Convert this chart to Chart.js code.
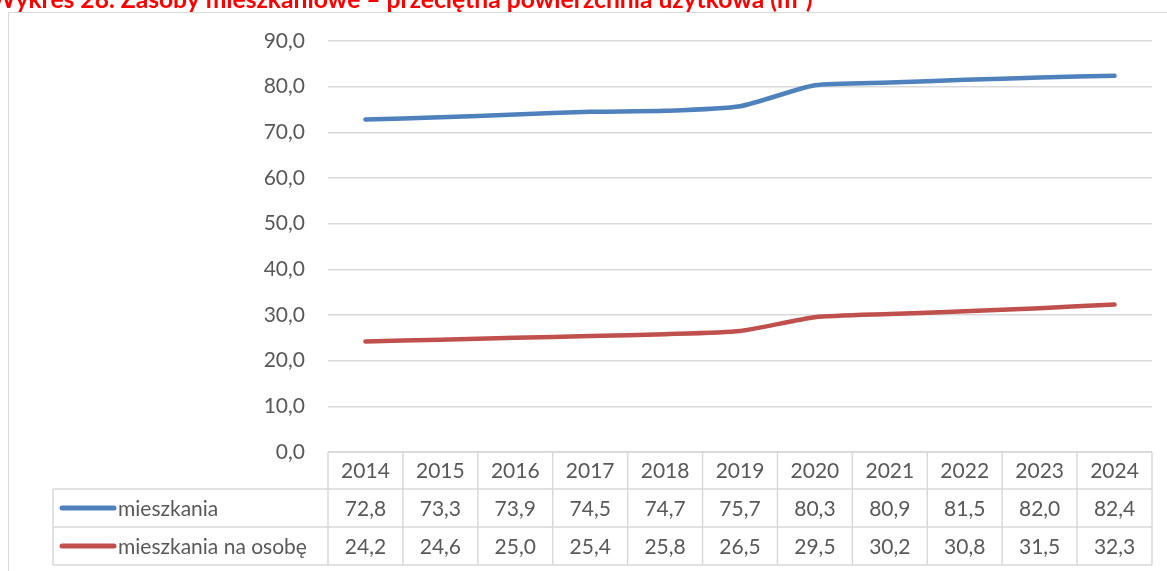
<!DOCTYPE html>
<html>
<head>
<meta charset="utf-8">
<script src="https://cdn.jsdelivr.net/npm/chart.js@4.4.1/dist/chart.umd.min.js"></script>
<style>
html,body{margin:0;padding:0;background:#fff;overflow:hidden;}
#wrap{position:relative;width:1167px;height:571px;}
canvas{display:block;}
</style>
</head>
<body>
<div id="wrap"><canvas id="c" width="1167" height="571"></canvas></div>
<script>
const title = 'Wykres 28. Zasoby mieszkaniowe – przeciętna powierzchnia użytkowa (m²)';
const categories = ['2014','2015','2016','2017','2018','2019','2020','2021','2022','2023','2024'];
const seriesNames = ['mieszkania','mieszkania na osobę'];
const mieszkania = [72.8,73.3,73.9,74.5,74.7,75.7,80.3,80.9,81.5,82.0,82.4];
const naOsobe = [24.2,24.6,25.0,25.4,25.8,26.5,29.5,30.2,30.8,31.5,32.3];
const yTicks = [0,10,20,30,40,50,60,70,80,90];

const FONT = 'Lato, "Liberation Sans", sans-serif';
const FS = 21;
const TXT = '#595959';
const GRID = '#d9d9d9';
const fmt = v => v.toFixed(1).replace('.', ',');

const tablePlugin = {
  id: 'tablePlugin',
  afterDraw(chart) {
    const ctx = chart.ctx;
    const area = chart.chartArea;
    const n = categories.length;
    const colW = (area.right - area.left) / n;
    const top = area.bottom;
    const rows = [top, 489, 527, 565];
    const legLeft = 53;
    ctx.save();
    // outer chart frame
    ctx.strokeStyle = GRID;
    ctx.lineWidth = 1;
    ctx.beginPath();
    ctx.moveTo(8.5, 571);
    ctx.lineTo(8.5, 12.5);
    ctx.lineTo(1167, 12.5);
    ctx.stroke();
    // table grid
    ctx.strokeStyle = GRID;
    ctx.lineWidth = 1.5;
    ctx.beginPath();
    ctx.moveTo(area.left, rows[0]); ctx.lineTo(area.right, rows[0]);
    for (let r = 1; r < rows.length; r++) {
      ctx.moveTo(legLeft, rows[r]); ctx.lineTo(area.right, rows[r]);
    }
    ctx.moveTo(legLeft, rows[1]); ctx.lineTo(legLeft, rows[3]);
    for (let k = 0; k <= n; k++) {
      const x = area.left + k * colW;
      ctx.moveTo(x, rows[0]); ctx.lineTo(x, rows[3]);
    }
    ctx.stroke();
    // text
    ctx.fillStyle = TXT;
    ctx.font = FS + 'px ' + FONT;
    ctx.textAlign = 'center';
    ctx.textBaseline = 'middle';
    const xs = chart.scales.x;
    categories.forEach((c, i) => {
      const cx = xs.getPixelForValue(i);
      ctx.fillText(c, cx, (rows[0] + rows[1]) / 2 + 1);
      ctx.fillText(fmt(chart.data.datasets[0].data[i]), cx, (rows[1] + rows[2]) / 2 + 1);
      ctx.fillText(fmt(chart.data.datasets[1].data[i]), cx, (rows[2] + rows[3]) / 2 + 1);
    });
    // legend keys
    chart.data.datasets.forEach((ds, j) => {
      const cy = (rows[j + 1] + rows[j + 2]) / 2;
      ctx.strokeStyle = ds.borderColor;
      ctx.lineWidth = 5;
      ctx.lineCap = 'round';
      ctx.beginPath();
      ctx.moveTo(62, cy); ctx.lineTo(114, cy);
      ctx.stroke();
      ctx.fillStyle = TXT;
      ctx.textAlign = 'left';
      ctx.fillText(ds.label, 118, cy + 1);
    });
    // title
    ctx.fillStyle = '#ff0000';
    let fs = 20;
    ctx.font = 'bold ' + fs + 'px ' + FONT;
    const w = ctx.measureText(title).width;
    fs = fs * 823 / w;
    ctx.font = 'bold ' + fs + 'px ' + FONT;
    ctx.textAlign = 'left';
    ctx.textBaseline = 'alphabetic';
    ctx.fillText(title, -10, 8);
    ctx.restore();
  }
};

new Chart(document.getElementById('c'), {
  type: 'line',
  data: {
    labels: categories,
    datasets: [
      { label: seriesNames[0], data: mieszkania, borderColor: '#4f81bd', backgroundColor: '#4f81bd', borderWidth: 4.5, pointRadius: 0, tension: 0.2, borderCapStyle: 'round', borderJoinStyle: 'round' },
      { label: seriesNames[1], data: naOsobe, borderColor: '#c0504d', backgroundColor: '#c0504d', borderWidth: 4.5, pointRadius: 0, tension: 0.2, borderCapStyle: 'round', borderJoinStyle: 'round' }
    ]
  },
  options: {
    responsive: false,
    animation: false,
    layout: { padding: { left: 0, top: 41, right: 15, bottom: 119 } },
    plugins: { legend: { display: false }, tooltip: { enabled: false }, title: { display: false } },
    scales: {
      x: { display: false, offset: true },
      y: {
        min: 0, max: 90,
        afterBuildTicks(scale) { scale.ticks = yTicks.map(v => ({ value: v })); },
        afterFit(scale) { scale.width = 328; },
        border: { display: false },
        grid: { color: GRID, lineWidth: 1.5, drawTicks: false },
        ticks: { padding: 23, color: TXT, font: { family: FONT, size: FS }, callback: v => fmt(v) }
      }
    }
  },
  plugins: [tablePlugin]
});
</script>
</body>
</html>
